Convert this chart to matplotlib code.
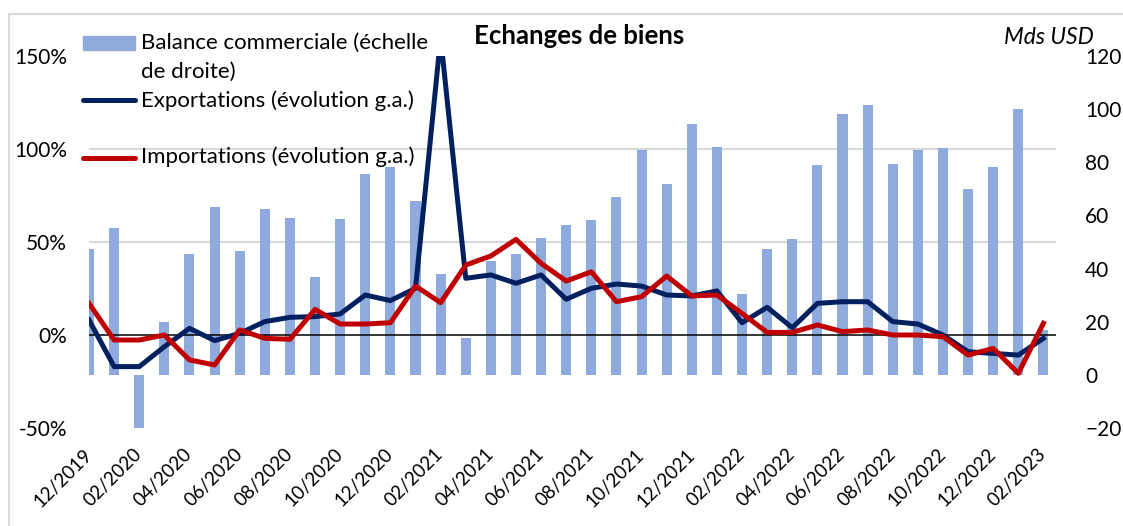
#!/usr/bin/env python3
"""Echanges de biens: balance commerciale (barres, echelle de droite) et
evolution g.a. des exportations / importations (lignes, echelle de gauche)."""

import matplotlib
matplotlib.use("Agg")
from matplotlib import pyplot as plt
from matplotlib.lines import Line2D
from matplotlib.patches import Rectangle
from matplotlib.ticker import FixedLocator, FuncFormatter
import numpy as np

plt.rcParams['font.family'] = ['Lato', 'DejaVu Sans']

# Data, 12/2019 .. 02/2023 (monthly)
tick_labels = ["12/2019", "02/2020", "04/2020", "06/2020", "08/2020", "10/2020",
               "12/2020", "02/2021", "04/2021", "06/2021", "08/2021", "10/2021",
               "12/2021", "02/2022", "04/2022", "06/2022", "08/2022", "10/2022",
               "12/2022", "02/2023"]

# trade balance, bn USD (right scale)
balance = [47.3, 55.2, -21.0, 19.8, 45.4, 63.0, 46.5, 62.4, 59.0, 36.9,
           58.5, 75.5, 78.2, 65.5, 38.0, 13.7, 42.9, 45.5, 51.6, 56.5,
           58.3, 66.9, 84.7, 71.8, 94.5, 85.6, 30.5, 47.4, 51.2, 78.9,
           98.0, 101.4, 79.4, 84.7, 85.2, 70.0, 78.2, 100.2, 16.9]

# y/y change, % (left scale)
exports = [8.1, -17.0, -17.0, -6.3, 3.6, -3.0, 0.9, 7.2, 9.5, 9.9,
           11.3, 21.5, 18.5, 25.1, 160.0, 30.5, 32.3, 27.8, 32.3, 19.2,
           25.1, 27.4, 26.3, 21.5, 21.0, 23.7, 6.6, 14.9, 3.9, 17.0,
           17.9, 17.9, 7.2, 5.9, 0.0, -9.0, -9.9, -10.8, -1.8]

imports = [17.0, -2.7, -2.7, 0.0, -13.4, -16.1, 2.7, -1.8, -2.3, 13.8,
           5.9, 5.9, 6.6, 26.3, 17.4, 37.6, 42.5, 51.4, 38.5, 29.0,
           34.0, 17.9, 20.6, 31.7, 21.0, 21.5, 11.6, 1.4, 1.4, 5.4,
           1.8, 2.7, 0.0, 0.0, -0.9, -10.8, -7.2, -20.6, 6.3]

BAR_COLOR = "#8FAADC"
EXP_COLOR = "#002060"
IMP_COLOR = "#C00000"
GRID_COLOR = "#D9D9D9"
FS_TICK = 15
FS_XTICK = 13.5
FS_LEG = 16
LW = 3.6

W, H = 1123, 526


def px(x, y):
    """pixel position (top-left origin) -> figure fraction"""
    return x / W, 1 - y / H


fig = plt.figure(figsize=(W / 100, H / 100), dpi=100)
ax = fig.add_axes([89 / W, 98 / H, (1056 - 89) / W, (428 - 56) / H])
ax2 = ax.twinx()

x = np.arange(len(balance))

# bars on right axis, drawn underneath
ax2.set_zorder(ax.get_zorder() - 1)
ax.patch.set_visible(False)
ax2.bar(x, balance, width=0.4, color=BAR_COLOR, zorder=2)
ax2.set_ylim(-20, 120)
ax2.set_yticks(np.arange(-20, 121, 20))

# gridlines follow the left axis (-50 .. 150 step 50)
left_lim = (-50, 150)
to_right = lambda v: -20 + (v - left_lim[0]) * 140 / (left_lim[1] - left_lim[0])
ax2.yaxis.set_minor_locator(FixedLocator([to_right(v) for v in (-50, 50, 100, 150)]))
ax2.grid(which='minor', axis='y', color=GRID_COLOR, lw=1.5, zorder=0)
ax2.set_axisbelow(True)

ax.axhline(0, color="black", lw=1.1, zorder=3)
ax.plot(x, exports, color=EXP_COLOR, lw=LW, solid_joinstyle='round', zorder=4)
ax.plot(x, imports, color=IMP_COLOR, lw=LW, solid_joinstyle='round', zorder=5)
ax.set_ylim(*left_lim)
ax.set_yticks([-50, 0, 50, 100, 150])
ax.yaxis.set_major_formatter(FuncFormatter(lambda v, _: f"{v:.0f}%"))

ax.set_xlim(0, 38.5)
ax.set_xticks(x[::2])
ax.set_xticklabels(tick_labels, rotation=45, ha='right', va='center',
                   rotation_mode='anchor')

for a in (ax, ax2):
    for s in a.spines.values():
        s.set_visible(False)
    a.tick_params(length=0, labelsize=FS_TICK, which='both')
ax.tick_params(axis='y', pad=16)
ax.tick_params(axis='x', pad=17, labelsize=FS_XTICK)
ax2.tick_params(axis='y', pad=21)
for lab in ax2.get_yticklabels():
    lab.set_horizontalalignment('left')

# title and unit
fig.text(*px(579, 36), "Echanges de biens", fontsize=18.5, fontweight='bold',
         ha='center', va='center')
fig.text(*px(1094, 37), "Mds USD", fontsize=16.5, style='italic',
         ha='right', va='center')

# legend, drawn by hand to keep Excel's layout
x0, y0 = px(83, 50)
x1, y1 = px(135, 36)
fig.add_artist(Rectangle((x0, y0), x1 - x0, y1 - y0, transform=fig.transFigure,
                         color=BAR_COLOR))
for yy, col in ((100, EXP_COLOR), (158, IMP_COLOR)):
    (lx0, ly), (lx1, _) = px(83, yy), px(135, yy)
    fig.add_artist(Line2D([lx0, lx1], [ly, ly], transform=fig.transFigure,
                          color=col, lw=LW, solid_capstyle='round'))
for yy, txt in ((43, "Balance commerciale (échelle"), (72, "de droite)"),
                (101, "Exportations (évolution g.a.)"),
                (157, "Importations (évolution g.a.)")):
    fig.text(*px(141, yy), txt, fontsize=FS_LEG, ha='left', va='center')

# chart border (top / left)
fig.add_artist(Line2D([9 / W, 1], [1 - 14 / H, 1 - 14 / H],
                      transform=fig.transFigure, color=GRID_COLOR, lw=1.5))
fig.add_artist(Line2D([9 / W, 9 / W], [0, 1 - 14 / H],
                      transform=fig.transFigure, color=GRID_COLOR, lw=1.5))

fig.savefig("out.png", dpi=100)
